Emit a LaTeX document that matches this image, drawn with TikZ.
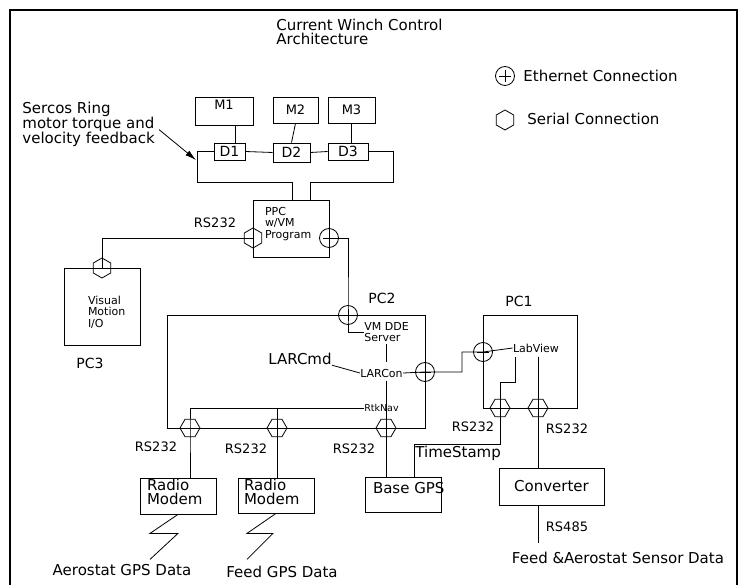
\documentclass[tikz,border=0pt]{standalone}
\usepackage{fontspec}
\setmainfont{DejaVu Sans}
\usetikzlibrary{shapes.geometric,arrows.meta,positioning}

\begin{document}
\begin{tikzpicture}[
    x=1pt, y=-1pt, line width=0.8pt,
    box/.style={rectangle, draw, inner sep=0pt},
    txtL/.style={inner sep=0pt, font=\fontsize{15}{14}\selectfont},
    txtM/.style={inner sep=0pt, font=\fontsize{14}{15}\selectfont},
    txtR/.style={inner sep=0pt, font=\fontsize{13}{14}\selectfont},
    txtS/.style={inner sep=0pt, font=\fontsize{11}{11.5}\selectfont},
    eth/.style={circle, draw, minimum size=19pt, inner sep=0pt,
        path picture={\draw ([yshift=6pt]path picture bounding box.center) -- ([yshift=-6pt]path picture bounding box.center)
            ([xshift=-6pt]path picture bounding box.center) -- ([xshift=6pt]path picture bounding box.center);}},
    serH/.style={regular polygon, regular polygon sides=6, draw, minimum size=20pt, inner sep=0pt},
    serV/.style={serH, shape border rotate=90},
    arrow/.style={-{Latex[length=11pt,width=6pt]}},
]
    \path[use as bounding box, fill=white] (0,0) rectangle (745,585);
    \draw[line width=1.3pt] (10,585) |- (737,10) -- (737,585);

    \node[txtL, align=left, anchor=north west] (title) at (276,19) {Current Winch Control\\Architecture};

    % legend
    \node[eth] (legEth) at (505,76) {};
    \node[txtL, anchor=west] (legEthTxt) at (523,76) {Ethernet Connection};
    \node[serV] (legSer) at (505,120) {};
    \node[txtL, anchor=west] (legSerTxt) at (527,119) {Serial Connection};

    % motors and drives
    \node[box, minimum width=58pt, minimum height=28pt] (m1) at (224,111) {};
    \node[txtR, below=3pt of m1.north] (m1txt) {M1};
    \node[box, txtR, minimum width=45pt, minimum height=26pt] (m2) at (295.5,110) {M2};
    \node[box, txtR, minimum width=47pt, minimum height=26pt] (m3) at (351.5,110) {M3};
    \node[box, txtM, minimum width=31pt, minimum height=17pt] (d1) at (229.5,151.5) {D1};
    \node[box, txtM, minimum width=37pt, minimum height=19pt] (d2) at (291.5,152.5) {D2};
    \node[box, txtM, minimum width=40pt, minimum height=17pt] (d3) at (348,151.5) {D3};
    \node[inner sep=0pt, font=\fontsize{15}{15}\selectfont, align=left, anchor=north west] (sercos) at (22,102) {Sercos Ring\\motor torque and\\velocity feedback};

    % PPC and Visual Motion
    \node[box, minimum width=76pt, minimum height=57pt] (ppc) at (291,228.5) {};
    \node[txtS, align=left, below right=7pt and 12pt of ppc.north west] (ppctxt) {PPC\\w/VM\\Program};
    \node[box, minimum width=76pt, minimum height=77pt] (vm) at (102,306.5) {};
    \node[txtS, align=left, below right=28pt and 24pt of vm.north west] (vmtxt) {Visual\\Motion\\I/O};
    \node[txtM] (pc3) at (90,363) {PC3};
    \node[txtR] (rsPPC) at (215,223) {RS232};

    % PC2
    \node[box, minimum width=258pt, minimum height=113pt] (pc2) at (296,371.5) {};
    \node[txtM] (pc2lbl) at (382,298) {PC2};
    \node[txtS, align=left, anchor=north west] (dde) at (364,322) {VM DDE\\Server};
    \node[txtS] (larcon) at (381.5,373) {LARCon};
    \node[txtL] (larcmd) at (300,359) {LARCmd};
    \node[inner sep=0pt, font=\fontsize{9.5}{10}\selectfont] (rtknav) at (381.5,408) {RtkNav};

    % PC1
    \node[box, minimum width=94pt, minimum height=93pt] (pc1) at (530,361.5) {};
    \node[txtM] (pc1lbl) at (519,301) {PC1};
    \node[txtS] (labview) at (536,348) {LabView};

    % field devices
    \node[box, minimum width=76pt, minimum height=36pt] (rm1) at (178,496) {};
    \node[txtL, align=left, below right=1pt and 7pt of rm1.north west] (rm1txt) {Radio\\Modem};
    \node[box, minimum width=76pt, minimum height=35pt] (rm2) at (276,495.5) {};
    \node[txtL, align=left, below right=1pt and 6pt of rm2.north west] (rm2txt) {Radio\\Modem};
    \node[box, minimum width=76pt, minimum height=35pt] (gps) at (403,494.5) {};
    \node[txtL, below right=5pt and 8pt of gps.north west] (gpstxt) {Base GPS};
    \node[box, txtL, minimum width=105pt, minimum height=37pt] (conv) at (551.5,486.5) {Converter};
    \node[txtL, anchor=north west] (ts) at (415,446) {TimeStamp};

    \node[txtR] (rsA) at (156,447) {RS232};
    \node[txtR] (rsB) at (246,449) {RS232};
    \node[txtR] (rsC) at (354,449) {RS232};
    \node[txtR] (rsD) at (473,427) {RS232};
    \node[txtR] (rsE) at (567,429) {RS232};
    \node[txtR] (rs485) at (567,527) {RS485};
    \node[txtL] (aeroGPS) at (122,570) {Aerostat GPS Data};
    \node[txtL] (feedGPS) at (282,572) {Feed GPS Data};
    \node[txtL] (sensor) at (618,558) {Feed \&Aerostat Sensor Data};

    % connection points
    \node[serV] (ppcS) at (253,238) {};
    \node[eth] (ppcE) at (329,238) {};
    \node[serV] (vmS) at (102,268) {};
    \node[eth] (pc2T) at (348,315) {};
    \node[eth] (pc2R) at (425,372) {};
    \node[serH] (pc2S1) at (190,428) {};
    \node[serH] (pc2S2) at (277,428) {};
    \node[serH] (pc2S3) at (386,428) {};
    \node[eth] (pc1E) at (483,352) {};
    \node[serH] (pc1S1) at (500,408) {};
    \node[serH] (pc1S2) at (538,408) {};

    % Sercos ring
    \coordinate (ringSW) at (197,182);
    \coordinate (ringSE) at (393,182);
    \coordinate (ringTip) at (196,160);
    \draw ([xshift=11pt]m1.south) -- ([xshift=5.5pt]d1.north);
    \draw (m2.south) -- (d2.north);
    \draw (m3.south) -- (m3.south |- d3.north);
    \draw (d1.east) -- (d2.west);
    \draw (d2.east) -- (d3.west);
    \draw (d1.west) -| (ringSW) -| ([xshift=1pt]ppc.north);
    \draw (d3.east) -| (ringSE) -| ([xshift=19pt]ppc.north);
    \draw[arrow] ([shift={(4pt,-5pt)}]sercos.east) -- (ringTip);

    % PPC links
    \draw (vmS.center) |- (ppcS.center);
    \draw (ppcE.center) -| (pc2T.center) |- (dde.west);

    % PC2 internals
    \coordinate (busX) at (386,0);
    \draw ([yshift=-2pt]dde.south -| busX) -- ([yshift=6pt]larcon.north -| busX);
    \draw (larcmd.south east) -- (larcon.west);
    \draw (larcon.east) -- (pc2R.center) -- ++(37,0) |- (pc1E.center);
    \draw (pc1E.center) -- (labview.west);
    \draw ([yshift=-3pt]larcon.south -| busX) -- (gps.north -| busX);
    \draw (rtknav.west) -| (pc2S1.center) -- (pc2S1 |- rm1.north);
    \draw (pc2S2 |- rtknav.west) -- (pc2S2 |- rm2.north);

    % TimeStamp and sensor links
    \coordinate (tsCorner) at (414,444);
    \coordinate (lvJog) at (515,382);
    \coordinate (sensorEnd) at (538,543);
    \draw (tsCorner |- gps.north) -- (tsCorner) -| (pc1S1 |- lvJog) -- (lvJog) -- ([yshift=-4pt]lvJog |- labview.south);
    \draw ([yshift=-4pt]pc1S2 |- labview.south) -- (pc1S2 |- conv.north);
    \draw (pc1S2 |- conv.south) -- (sensorEnd);

    % radio links
    \draw (rm1.south) -- ++(-28,19) -- ++(28,0) -- ++(-28,26);
    \draw (rm2.south) -- ++(-29,20) -- ++(26,0) -- ++(-26,26);
\end{tikzpicture}
\end{document}
